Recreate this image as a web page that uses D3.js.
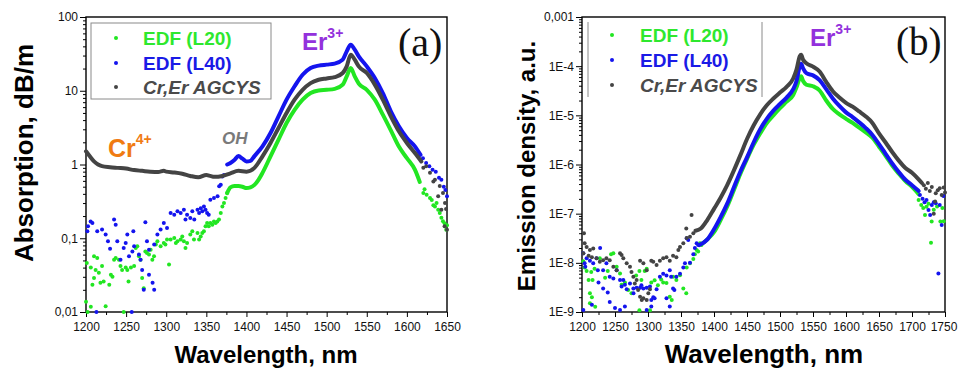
<!DOCTYPE html>
<html>
<head>
<meta charset="utf-8">
<script src="https://cdn.jsdelivr.net/npm/d3@7"></script>
<style>
  html, body { margin: 0; padding: 0; background: #fff; }
  svg { display: block; font-family: "Liberation Sans", Arial, sans-serif; }
</style>
</head>
<body>
<svg id="chart"></svg>
<script>
// ---------- shared ----------
const seriesNames = ["EDF (L20)", "EDF (L40)", "Cr,Er AGCYS"];

// ---------- panel (a): absorption, dB/m ----------
const absTicksX = [1200, 1250, 1300, 1350, 1400, 1450, 1500, 1550, 1600, 1650];
const absTicksY = [100, 10, 1, 0.1, 0.01];
const absTickLabelsY = ["100", "10", "1", "0,1", "0,01"];

// scattered points [wavelength, value]
const absL20Dots = [[1200,0.0138],[1201,0.046],[1202,0.010],[1206,0.0118],[1206,0.040],[1208,0.0235],[1210,0.057],[1210,0.029],
  [1212,0.037],[1214,0.054],[1216,0.034],[1218,0.025],[1220,0.042],[1222,0.026],[1224.5,0.012],[1229,0.0235],[1231,0.032],
  [1233,0.030],[1235,0.051],[1237,0.054],[1241,0.051],[1243,0.042],[1245,0.037],[1247,0.010],[1249.5,0.040],[1251.5,0.037],
  [1253,0.026],[1256,0.040],[1260,0.042],[1262,0.074],[1264,0.078],[1266,0.057],[1268,0.051],[1270,0.029],[1272,0.021],
  [1274,0.066],[1276,0.063],[1278.5,0.060],[1280.6,0.070],[1282.7,0.051],[1284.8,0.057],[1287,0.082],[1289,0.091],
  [1293,0.078],[1297,0.086],[1299,0.082],[1301,0.096],[1303.5,0.044],[1305.5,0.096],[1310,0.101],[1312,0.086],[1314,0.091],
  [1318,0.096],[1320,0.106],[1322,0.091],[1324,0.074],[1326,0.086],[1330,0.112],[1332.5,0.124],[1334.6,0.096],[1339,0.118],
  [1341,0.096],[1343,0.106],[1345,0.118],[1347,0.124],[1349,0.145],[1351,0.161],[1353,0.145],[1355,0.161],[1357.5,0.153],
  [1359.5,0.169],[1361.6,0.161],[1363.7,0.169],[1365.8,0.179],[1368,0.22],[1370,0.27],[1372,0.30],[1374,0.35],[1376,0.41],
  [1620.5,0.41],[1622,0.46],[1624.6,0.39],[1628.8,0.35],[1631,0.33],[1633,0.28],[1635,0.27],[1637,0.30],[1639,0.244],
  [1641,0.22],[1643,0.19],[1645,0.17],[1647,0.16],[1649,0.13],[1650,0.15]];
const absL40Dots = [[1201.7,0.124],[1202.5,0.145],[1205.8,0.169],[1208,0.161],[1213,0.010],[1214,0.124],[1220,0.131],
  [1224.5,0.112],[1227.4,0.091],[1230,0.072],[1235,0.179],[1237,0.153],[1239,0.091],[1243,0.051],[1247,0.074],[1249.5,0.086],
  [1251.5,0.112],[1253.6,0.057],[1257,0.010],[1257.8,0.066],[1259,0.124],[1260,0.078],[1266,0.060],[1268,0.051],[1270,0.037],
  [1272,0.020],[1274,0.165],[1276,0.091],[1278.5,0.032],[1278.5,0.070],[1283,0.025],[1285,0.020],[1285,0.082],[1289,0.112],
  [1293,0.131],[1297,0.161],[1301,0.138],[1305.5,0.22],[1310,0.209],[1314,0.232],[1318,0.22],[1322,0.244],[1324,0.179],
  [1326,0.209],[1330,0.188],[1332.5,0.232],[1335,0.179],[1339,0.244],[1341,0.22],[1343,0.255],[1345,0.232],[1347,0.27],
  [1349,0.244],[1351,0.22],[1353,0.209],[1355,0.333],[1359.5,0.35],[1364,0.37],[1366,0.506],[1368,0.53],[1370,0.69],
  [1372,0.72],[1620,1.22],[1624,1.05],[1628,0.95],[1632,0.85],[1636,0.80],[1640,0.66],[1643,0.62],[1646,0.50],[1648,0.45],
  [1650,0.37]];
const absCrErDots = [[1620.5,0.90],[1624,0.95],[1628.8,0.77],[1633,0.59],[1635,0.62],[1639,0.37],[1641,0.51],[1643,0.244],
  [1645,0.41],[1647,0.145],[1647.5,0.30],[1648.8,0.25],[1650,0.13]];

// dense (continuous) parts [wavelength, value]
const absL20Line = [[1376,0.41],[1380,0.49],[1385,0.51],[1390,0.51],[1395,0.50],[1400,0.48],[1405,0.49],[1410,0.53],
  [1415,0.62],[1420,0.77],[1430,1.29],[1440,2.17],[1450,3.65],[1460,5.5],[1470,7.57],[1480,9.3],[1490,10.1],[1500,10.3],
  [1510,10.6],[1520,12.1],[1525,15.7],[1530,20.3],[1535,15.7],[1540,12.5],[1550,10.3],[1560,7.57],[1570,4.74],[1580,2.9],
  [1590,1.75],[1600,1.22],[1610,0.85],[1616,0.58]];
const absL40Line = [[1376,1.0],[1380,1.05],[1385,1.15],[1390,1.30],[1395,1.20],[1400,1.10],[1405,1.12],[1410,1.30],
  [1420,1.76],[1430,2.67],[1440,4.5],[1450,7.57],[1460,11.5],[1470,16.5],[1480,20.3],[1490,21.9],[1500,22.6],[1510,23.3],
  [1520,26.4],[1525,34.2],[1530,42.2],[1535,36.1],[1540,29.3],[1550,21.4],[1560,14.9],[1570,9.3],[1580,5.26],[1590,3.3],
  [1600,2.29],[1610,1.76],[1617,1.35]];
const absCrErLine = [[1200,1.51],[1205,1.28],[1210,1.10],[1215,1.0],[1220,0.95],[1230,0.92],[1240,0.90],[1250,0.88],
  [1260,0.84],[1270,0.82],[1280,0.80],[1290,0.79],[1297,0.82],[1300,0.80],[1310,0.78],[1320,0.75],[1330,0.70],[1340,0.67],
  [1350,0.72],[1355,0.70],[1360,0.68],[1370,0.70],[1380,0.76],[1390,0.82],[1400,0.80],[1410,0.90],[1420,1.29],[1430,1.96],
  [1440,3.13],[1450,4.99],[1460,7.57],[1470,10.3],[1480,12.7],[1490,14.1],[1500,14.7],[1510,15.3],[1520,17.4],[1525,21.4],
  [1530,30.8],[1535,26.4],[1540,21.4],[1550,17.4],[1560,12.1],[1570,7.57],[1580,4.5],[1590,2.82],[1600,1.96],[1610,1.43],
  [1618,1.1]];

// ---------- panel (b): emission density, a.u. ----------
const emTicksX = [1200, 1250, 1300, 1350, 1400, 1450, 1500, 1550, 1600, 1650, 1700, 1750];
const emTicksY = [1e-3, 1e-4, 1e-5, 1e-6, 1e-7, 1e-8, 1e-9];
const emTickLabelsY = ["0,001", "1E-4", "1E-5", "1E-6", "1E-7", "1E-8", "1E-9"];

const emL20Dots = [[1202,1.08e-8],[1204,8.0e-9],[1207,6.8e-9],[1210,4.5e-9],[1212,2.4e-9],[1212,1.5e-9],[1214,6.5e-9],
  [1215,2.0e-9],[1216,4.5e-9],[1219,7.6e-9],[1220,1.28e-9],[1227,1.24e-8],[1235,5.0e-9],[1239,6.8e-9],[1244,1.5e-8],
  [1247.5,1.56e-8],[1252.5,8.3e-9],[1257.6,6.1e-9],[1260,3.6e-9],[1265,4.0e-9],[1270,2.8e-9],[1275,2.4e-9],[1282,5.5e-9],
  [1287,6.8e-9],[1287,1.09e-9],[1290,4.5e-9],[1295,6.8e-9],[1298,7.6e-9],[1303,1.09e-9],[1305,4.0e-9],[1310,4.4e-9],
  [1315,3.5e-9],[1320,4.6e-9],[1323,4.0e-9],[1328,3.9e-9],[1333,2.04e-9],[1336,1.75e-9],[1338,5.2e-9],[1343,4.5e-9],
  [1348.5,5.6e-9],[1353.5,3.0e-9],[1358,2.4e-9],[1358.6,8.0e-9],[1363.6,9.8e-9],[1368.7,1.2e-8],[1371,1.5e-8],
  [1373.7,1.82e-8],[1376,1.7e-8],[1378.8,2.5e-8],[1381,2.3e-8],
  [1710,1.9e-7],[1714,1.5e-7],[1717,1.3e-7],[1719.7,9.4e-8],[1722,1.39e-7],[1725,1.6e-7],[1728.8,2.57e-8],[1729.8,6.9e-8],
  [1733,1.2e-7],[1738,1.4e-7],[1743,6.9e-8],[1746,1.3e-7],[1748,7e-8]];
const emL40Dots = [[1202,1.56e-8],[1202,1.1e-9],[1204,9.8e-9],[1205,8.3e-9],[1207,1.24e-8],[1212,1.1e-8],[1215,1.4e-9],
  [1217,9.8e-9],[1222,1.24e-8],[1224,7.1e-9],[1225,4.0e-9],[1227.5,2.0e-8],[1232,7.1e-9],[1232,3.0e-9],[1237,9.8e-9],
  [1239,2.5e-9],[1242,5.2e-9],[1242,1.6e-9],[1247.5,4.8e-9],[1250,1.2e-9],[1252.5,7.1e-9],[1257.6,4.47e-9],[1257.6,1.1e-9],
  [1260,3.3e-9],[1262.6,4.47e-9],[1265,3.6e-9],[1265,1.3e-9],[1267.7,2.9e-9],[1272.7,3.8e-9],[1277.8,3.0e-9],[1278,2.4e-9],
  [1282.8,3.1e-9],[1288,3.1e-9],[1290,3.5e-9],[1293,3.0e-9],[1298,3.1e-9],[1298,1.1e-9],[1303,3.3e-9],[1305,1.75e-9],
  [1305,1.3e-9],[1308,2.0e-9],[1310,1.9e-9],[1313,2.9e-9],[1318,5.2e-9],[1323,6.0e-9],[1328,5.5e-9],[1328,1.9e-9],
  [1333,7.1e-9],[1333,1.3e-9],[1335,5.2e-9],[1338,3.0e-9],[1340,2.8e-9],[1343,5.2e-9],[1348.5,6.0e-9],[1353.5,8.0e-9],
  [1356,9.8e-9],[1358.6,3.16e-8],[1361,2.9e-8],[1363.6,1.0e-8],[1368.7,1.5e-8],[1371,2.0e-8],[1373.7,2.5e-8],[1376,2.3e-8],
  [1712,2.4e-7],[1716,2.0e-7],[1719,1.7e-7],[1722,1.9e-7],[1725,1.19e-7],[1727.5,9.4e-8],[1730,1.5e-7],[1733,1.7e-7],
  [1736,1.63e-7],[1740,6.1e-9],[1742,1.5e-7],[1745,5.9e-8],[1747.5,2.3e-7]];
const emCrErDots = [[1202,1.56e-8],[1203,4.0e-8],[1204,2.5e-8],[1207,2.1e-8],[1210,1.4e-8],[1212,1.82e-8],[1215,1.3e-8],
  [1217,1.95e-8],[1222,1.24e-8],[1227,1.05e-8],[1232,1.13e-8],[1237,1.24e-8],[1242,1.13e-8],[1247.5,8.3e-9],[1252.5,7.1e-9],
  [1257.6,1.56e-8],[1260,1.45e-8],[1262.6,1.24e-8],[1267.7,9.8e-9],[1272.7,8.3e-9],[1275,6.5e-9],[1277.8,5.2e-9],
  [1280,3.8e-9],[1282.8,4.47e-9],[1285,2.8e-9],[1288,2.04e-9],[1288,1.1e-8],[1290.5,1.75e-9],[1293,1.9e-9],[1293,9.8e-9],
  [1298,1.75e-9],[1298,7.1e-9],[1300.5,2.4e-9],[1303,2.9e-9],[1305,1.1e-8],[1308,1.05e-8],[1313,9.0e-9],[1318,1.1e-8],
  [1323,1.24e-8],[1328,1.3e-8],[1333,1.1e-8],[1338,1.4e-8],[1343,1.3e-8],[1346,1.82e-8],[1348.5,2.1e-8],[1353.5,2.5e-8],
  [1358,5.0e-8],[1358.6,3.2e-8],[1363.6,3.4e-8],[1366,9.4e-8],[1368.7,4.0e-8],
  [1718,3.8e-7],[1721,3.2e-7],[1724,4.2e-7],[1727,2.9e-7],[1730,3.5e-7],[1733,1.0e-7],[1735,1.76e-7],[1736,2.6e-7],
  [1739,3.0e-7],[1742,3.3e-7],[1745,2.4e-7],[1748,3.4e-7],[1750,2.7e-7]];

const emL20Line = [[1383,2.5e-8],[1390,3.0e-8],[1400,4.2e-8],[1410,7.4e-8],[1420,1.4e-7],[1430,3.0e-7],[1440,6.5e-7],
  [1450,1.3e-6],[1460,2.5e-6],[1470,4.3e-6],[1480,7.0e-6],[1490,1.0e-5],[1500,1.4e-5],[1510,1.9e-5],[1520,2.6e-5],
  [1525,3.7e-5],[1530,5.8e-5],[1532,6.2e-5],[1535,5.0e-5],[1540,4.2e-5],[1550,3.9e-5],[1560,3.2e-5],[1570,2.0e-5],
  [1580,1.35e-5],[1590,1.05e-5],[1600,8.5e-6],[1610,7.0e-6],[1620,5.6e-6],[1630,4.5e-6],[1640,3.5e-6],[1650,2.3e-6],
  [1660,1.5e-6],[1670,9.5e-7],[1680,6.5e-7],[1690,4.6e-7],[1700,3.5e-7],[1710,2.5e-7]];
const emL40Line = [[1378,2.3e-8],[1390,3.0e-8],[1400,4.8e-8],[1410,8.5e-8],[1420,1.6e-7],[1430,3.4e-7],[1440,7.2e-7],
  [1450,1.4e-6],[1460,2.8e-6],[1470,5.2e-6],[1480,8.5e-6],[1490,1.25e-5],[1500,1.7e-5],[1510,2.3e-5],[1520,3.4e-5],
  [1525,5.0e-5],[1530,1.0e-4],[1532,1.12e-4],[1535,9.0e-5],[1540,7.2e-5],[1550,6.5e-5],[1560,5.2e-5],[1570,3.4e-5],
  [1580,2.2e-5],[1590,1.55e-5],[1600,1.15e-5],[1610,9.2e-6],[1620,7.2e-6],[1630,5.5e-6],[1640,4.0e-6],[1650,2.6e-6],
  [1660,1.65e-6],[1670,1.05e-6],[1680,7.0e-7],[1690,4.9e-7],[1700,3.8e-7],[1710,2.9e-7]];
const emCrErLine = [[1372,4.5e-8],[1380,5.0e-8],[1390,7.5e-8],[1400,1.25e-7],[1410,2.1e-7],[1420,3.8e-7],[1430,7.5e-7],
  [1440,1.55e-6],[1450,3.3e-6],[1460,6.2e-6],[1470,1.05e-5],[1480,1.6e-5],[1490,2.2e-5],[1500,2.9e-5],[1510,3.8e-5],
  [1520,5.6e-5],[1525,8.5e-5],[1530,1.6e-4],[1532,1.7e-4],[1535,1.35e-4],[1540,1.15e-4],[1550,9.8e-5],[1560,7.8e-5],
  [1570,4.8e-5],[1580,3.1e-5],[1590,2.3e-5],[1600,1.8e-5],[1610,1.5e-5],[1620,1.2e-5],[1630,9.5e-6],[1640,7.0e-6],
  [1650,4.3e-6],[1660,2.8e-6],[1670,1.8e-6],[1680,1.2e-6],[1690,8.5e-7],[1700,6.8e-7],[1710,5.0e-7],[1715,4.2e-7]];

// ---------- drawing ----------
const width = 958;
const height = 370;
const colors = ["#22e622", "#1414ee", "#444444"];
const textColors = ["#2ee82e", "#1a1ae6", "#4a4a4a"];

const svg = d3.select("#chart")
    .attr("width", width)
    .attr("height", height);

svg.append("rect").attr("width", width).attr("height", height).attr("fill", "#fff");

function styleAxis(sel) {
    sel.select(".domain").remove();
    sel.selectAll("line").attr("stroke", "#000").attr("stroke-width", 1);
    sel.selectAll("text")
        .attr("font-size", "12px")
        .attr("font-family", "'Liberation Sans', Arial, sans-serif")
        .attr("fill", "#111");
}

function drawPanel(p) {
    const x = d3.scaleLinear().domain(p.xDomain).range([p.left, p.right]);
    const y = d3.scaleLog().domain(p.yDomain).range([p.bottom, p.top]);
    const g = svg.append("g");

    // minor ticks
    const xMinor = d3.range(p.xDomain[0] + 25, p.xDomain[1], 50);
    g.append("g")
        .attr("transform", `translate(0,${p.bottom})`)
        .call(d3.axisBottom(x).tickValues(xMinor).tickSize(3).tickFormat("").tickSizeOuter(0))
        .call(styleAxis);
    const yMinor = y.ticks().filter(v => !p.yTicks.some(t => Math.abs(Math.log10(t) - Math.log10(v)) < 1e-6));
    g.append("g")
        .attr("transform", `translate(${p.left},0)`)
        .call(d3.axisLeft(y).tickValues(yMinor).tickSize(3).tickFormat("").tickSizeOuter(0))
        .call(styleAxis);

    // major ticks
    const xAxisG = g.append("g")
        .attr("transform", `translate(0,${p.bottom})`)
        .call(d3.axisBottom(x).tickValues(p.xTicks).tickSize(5).tickPadding(5).tickSizeOuter(0)
            .tickFormat(d => String(d)))
        .call(styleAxis);
    if (p.lastLabelShift) {
        xAxisG.selectAll(".tick text").filter(d => d === p.xTicks[p.xTicks.length - 1])
            .attr("dx", p.lastLabelShift);
    }
    g.append("g")
        .attr("transform", `translate(${p.left},0)`)
        .call(d3.axisLeft(y).tickValues(p.yTicks).tickSize(6).tickPadding(2).tickSizeOuter(0)
            .tickFormat((d, i) => p.yLabels[i]))
        .call(styleAxis);

    // frame
    g.append("rect")
        .attr("x", p.left).attr("y", p.top)
        .attr("width", p.right - p.left).attr("height", p.bottom - p.top)
        .attr("fill", "none").attr("stroke", "#000").attr("stroke-width", 1.4);

    // series: green, blue, gray
    const line = d3.line()
        .x(d => x(d[0]))
        .y(d => y(d[1]))
        .curve(d3.curveMonotoneX);

    p.series.forEach((s, i) => {
        g.append("path")
            .datum(s.line)
            .attr("d", line)
            .attr("fill", "none")
            .attr("stroke", colors[i])
            .attr("stroke-width", 4)
            .attr("stroke-linejoin", "round")
            .attr("stroke-linecap", "round");
        g.selectAll(null)
            .data(s.dots)
            .enter()
            .append("circle")
            .attr("cx", d => x(d[0]))
            .attr("cy", d => y(d[1]))
            .attr("r", 2)
            .attr("fill", colors[i]);
    });

    // axis titles
    g.append("text")
        .attr("x", p.xTitlePos[0]).attr("y", p.xTitlePos[1])
        .attr("text-anchor", "middle")
        .attr("font-size", p.xTitleSize + "px")
        .attr("font-weight", "bold")
        .text("Wavelength, nm");
    g.append("text")
        .attr("transform", `translate(${p.yTitlePos[0]},${p.yTitlePos[1]}) rotate(-90)`)
        .attr("text-anchor", "middle")
        .attr("font-size", p.yTitleSize + "px")
        .attr("font-weight", "bold")
        .text(p.yTitle);

    // legend
    const leg = g.append("g");
    if (p.legendBox) {
        leg.append("rect")
            .attr("x", p.legendBox[0]).attr("y", p.legendBox[1])
            .attr("width", p.legendBox[2]).attr("height", p.legendBox[3])
            .attr("fill", "none").attr("stroke", "#8a8a8a").attr("stroke-width", 1);
    }
    if (p.legendBars) {
        p.legendBars.forEach(bx => {
            leg.append("line")
                .attr("x1", bx).attr("x2", bx)
                .attr("y1", p.legendBarY[0]).attr("y2", p.legendBarY[1])
                .attr("stroke", "#8a8a8a").attr("stroke-width", 1);
        });
    }
    seriesNames.forEach((name, i) => {
        const ry = p.legendRows[i];
        leg.append("circle")
            .attr("cx", p.legendMarkerX).attr("cy", ry)
            .attr("r", 2).attr("fill", colors[i]);
        leg.append("text")
            .attr("x", p.legendTextX).attr("y", ry + 6.5)
            .attr("font-size", "19px")
            .attr("font-weight", "bold")
            .attr("font-style", i === 2 ? "italic" : "normal")
            .attr("fill", textColors[i])
            .text(name);
    });

    // Er3+ label
    const er = g.append("text")
        .attr("x", p.erPos[0]).attr("y", p.erPos[1])
        .attr("font-size", "24px").attr("font-weight", "bold")
        .attr("fill", "#9331dc");
    er.append("tspan").text("Er");
    er.append("tspan").attr("dy", -12).attr("font-size", "14px").text("3+");

    // panel letter
    g.append("text")
        .attr("x", p.letterPos[0]).attr("y", p.letterPos[1])
        .attr("font-family", "'Liberation Serif', 'Times New Roman', serif")
        .attr("font-size", p.letterSize + "px")
        .attr("fill", "#111")
        .text(p.letter);

    return { g, x, y };
}

const panelA = drawPanel({
    left: 86, right: 447, top: 17, bottom: 312,
    xDomain: [1200, 1650], yDomain: [0.01, 100],
    xTicks: absTicksX, yTicks: absTicksY, yLabels: absTickLabelsY,
    series: [
        { line: absL20Line, dots: absL20Dots },
        { line: absL40Line, dots: absL40Dots },
        { line: absCrErLine, dots: absCrErDots }
    ],
    xTitlePos: [266, 363], xTitleSize: 24,
    yTitlePos: [33, 153], yTitleSize: 26, yTitle: "Absorption, dB/m",
    legendBox: [91, 23, 180, 76],
    legendMarkerX: 116, legendTextX: 143, legendRows: [38, 63, 87],
    erPos: [302, 50],
    letter: "(a)", letterPos: [398, 56], letterSize: 40
});

// extra labels in (a)
const cr = panelA.g.append("text")
    .attr("x", 108).attr("y", 157)
    .attr("font-size", "25px").attr("font-weight", "bold")
    .attr("fill", "#f07b12");
cr.append("tspan").text("Cr");
cr.append("tspan").attr("dy", -13).attr("font-size", "14px").text("4+");

panelA.g.append("text")
    .attr("x", 222).attr("y", 143.5)
    .attr("font-size", "17px").attr("font-weight", "bold").attr("font-style", "italic")
    .attr("fill", "#7a7a7a")
    .text("OH");

drawPanel({
    left: 582, right: 945, top: 17, bottom: 312,
    xDomain: [1200, 1750], yDomain: [1e-9, 1e-3],
    xTicks: emTicksX, yTicks: emTicksY, yLabels: emTickLabelsY,
    lastLabelShift: -1.5,
    series: [
        { line: emL20Line, dots: emL20Dots },
        { line: emL40Line, dots: emL40Dots },
        { line: emCrErLine, dots: emCrErDots }
    ],
    xTitlePos: [764, 363], xTitleSize: 26,
    yTitlePos: [535, 166], yTitleSize: 24, yTitle: "Emission density, a.u.",
    legendBars: [588, 762], legendBarY: [22, 97],
    legendMarkerX: 612, legendTextX: 640, legendRows: [35, 60, 85],
    erPos: [810, 46],
    letter: "(b)", letterPos: [896, 55], letterSize: 39
});
</script>
</body>
</html>
